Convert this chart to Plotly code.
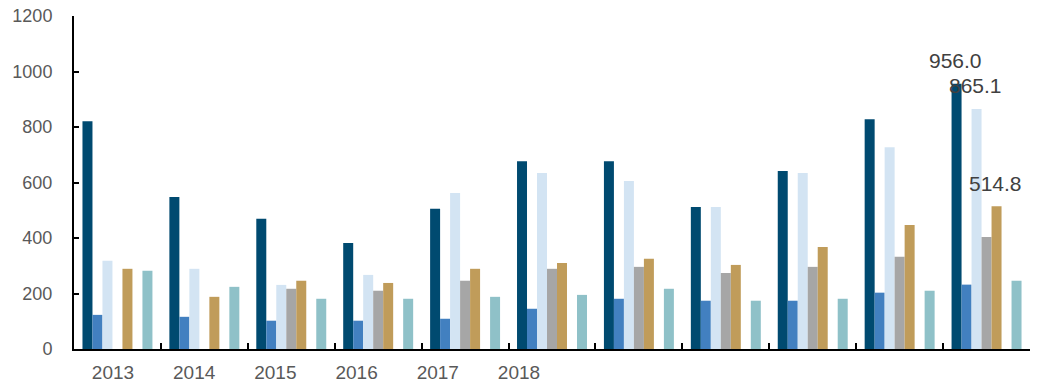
import plotly.graph_objects as go

# Eleven periods per series; the sixth slot in each group is an empty series
groups = list(range(11))
year_labels = ["2013", "2014", "2015", "2016", "2017", "2018"]

series_a = [821, 548, 469, 382, 505, 677, 677, 512, 641, 828, 956.0]
series_b = [123, 116, 102, 102, 109, 145, 181, 174, 174, 203, 232]
series_c = [318, 289, 231, 267, 562, 634, 605, 512, 634, 727, 865.1]
series_d = [None, None, 217, 210, 246, 289, 296, 274, 296, 332, 404]
series_e = [289, 188, 246, 238, 289, 310, 325, 303, 368, 447, 514.8]
series_f = [None] * 11
series_g = [282, 224, 181, 181, 188, 195, 217, 174, 181, 210, 246]

all_series = [series_a, series_b, series_c, series_d, series_e, series_f, series_g]
colors = ["#004A70", "#4280C0", "#D3E4F3", "#A6A6A6", "#C09C5A", "#FFFFFF", "#8FC1C8"]

# series whose last value carries a data label
labelled = [0, 2, 4]

fig = go.Figure()
for vals, col in zip(all_series, colors):
    fig.add_trace(go.Bar(x=groups, y=vals, marker_color=col, marker_line_width=0,
                         showlegend=False, hoverinfo="skip"))

# year captions on an overlaid category axis (invisible carrier trace)
fig.add_trace(go.Scatter(x=year_labels, y=[None] * len(year_labels), xaxis="x2",
                         mode="markers", marker=dict(color="rgba(0,0,0,0)", size=1),
                         showlegend=False, hoverinfo="skip"))

bargap = 0.195
slot = (1 - bargap) / len(all_series)
for s in labelled:
    g = groups[-1]
    v = all_series[s][-1]
    xc = g - (1 - bargap) / 2 + slot * (s + 0.5)
    fig.add_annotation(x=xc, y=v, text=f"{v:.1f}", showarrow=False, yshift=23, xshift=-1,
                       font=dict(family="Liberation Sans, Arial", size=21, color="#404040"))

font = dict(family="Liberation Sans, Arial", size=18, color="#595959")
fig.update_layout(
    width=1043, height=392,
    margin=dict(l=74, r=13, t=16, b=43),
    paper_bgcolor="white", plot_bgcolor="white",
    barmode="group", bargap=bargap, bargroupgap=0,
    font=font,
    xaxis=dict(type="linear", range=[-0.5, 10.5], tickmode="linear", tick0=-0.5, dtick=1,
               showticklabels=False, ticks="inside", ticklen=6, tickwidth=2, tickcolor="black",
               showline=True, linecolor="black", linewidth=2, showgrid=False, zeroline=False,
               automargin=False),
    xaxis2=dict(type="category", overlaying="x", anchor="y", side="bottom",
                range=[-0.48, 11.293], showline=False, showgrid=False, zeroline=False,
                ticks="", tickfont=dict(family="Liberation Sans, Arial", size=19, color="#595959"),
                ticklabelstandoff=10, automargin=False),
    yaxis=dict(range=[0, 1200], tickmode="linear", tick0=0, dtick=200,
               ticks="inside", ticklen=5, tickwidth=2, tickcolor="black",
               showline=True, linecolor="black", linewidth=2, showgrid=False, zeroline=False,
               ticklabelstandoff=16, tickfont=font, automargin=False),
)

fig.write_html("out.html")
